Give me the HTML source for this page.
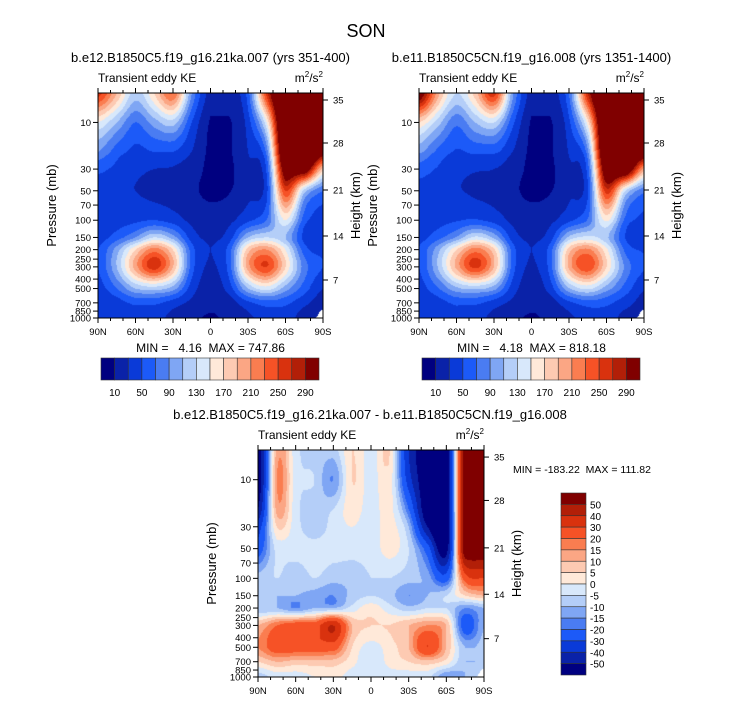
<!DOCTYPE html>
<html><head><meta charset="utf-8">
<style>
html,body{margin:0;padding:0;background:#fff;}
#root{position:relative;width:733px;height:701px;overflow:hidden;font-family:"Liberation Sans",Arial,sans-serif;}
canvas{position:absolute;}
svg{position:absolute;left:0;top:0;}
text{white-space:pre;}
</style></head>
<body>
<div id="root">
<canvas id="c1"></canvas>
<canvas id="c2"></canvas>
<canvas id="c3"></canvas>
<svg id="ov" width="733" height="701"></svg>
</div>
<script>
// ---- data ----
const lats = [90,75,60,45,30,15,0,-15,-30,-45,-60,-75,-90];
const levels = [5,10,20,30,50,100,150,200,300,500,700,1000];
const keLevels = [10,30,50,70,90,110,130,150,170,190,210,230,250,270,290];
const diffLevels = [-50,-40,-30,-20,-15,-10,-5,0,5,10,15,20,30,40,50];
const keTickLabels = ["10","50","90","130","170","210","250","290"];
const diffTickLabels = ["50","40","30","20","15","10","5","0","-5","-10","-15","-20","-30","-40","-50"];
const presLabels = [10,30,50,70,100,150,200,250,300,400,500,700,850,1000];
const latLabels = ["90N","60N","30N","0","30S","60S","90S"];
const latTicks = [90,60,30,0,-30,-60,-90];
const heightLabels = ["35","28","21","14","7"];
const panel1 = [
 [260,190,120,170,230,90,20,20,60,260,400,400,400],
 [150,110,70,100,120,50,8,8,40,150,400,400,400],
 [90,60,45,50,50,30,6,8,30,80,380,400,320],
 [55,45,35,30,28,20,5,7,25,55,330,330,180],
 [40,35,30,25,22,14,5,9,25,45,250,120,70],
 [35,40,45,50,40,25,20,25,45,70,150,60,40],
 [40,60,90,130,100,40,28,40,110,130,110,45,35],
 [50,100,170,220,170,60,30,60,180,210,150,60,45],
 [50,110,200,260,190,60,28,60,200,250,170,80,50],
 [40,70,110,120,100,40,20,40,110,140,100,60,30],
 [30,40,55,55,40,25,15,20,45,60,55,35,20],
 [30,35,40,35,25,15,8,15,25,40,40,20,null]];
const panel2 = [
 [320,200,130,180,260,95,20,20,70,270,400,400,400],
 [170,120,75,110,130,55,8,8,45,160,400,400,400],
 [95,65,48,55,55,30,6,8,32,85,390,400,340],
 [60,48,37,32,30,20,5,7,26,60,340,350,200],
 [42,37,32,27,24,14,5,9,26,48,260,130,75],
 [38,42,48,52,42,25,20,25,45,72,155,65,45],
 [42,62,92,135,105,40,28,40,115,135,115,50,38],
 [52,102,170,220,175,60,30,60,180,215,155,65,48],
 [50,110,195,255,190,60,28,60,195,245,170,85,52],
 [40,68,105,115,98,40,20,40,108,135,100,62,32],
 [30,40,55,55,40,25,15,20,45,60,55,38,22],
 [30,35,40,35,25,15,8,15,25,40,42,22,null]];
const diffData = [
 [-60,12,-3,-8,-8,5,-3,5,-40,-60,-60,60,60],
 [-60,15,-3,-5,-15,5,-3,3,-35,-60,-60,60,60],
 [-50,12,-3,-8,-5,3,-3,2,-20,-60,-60,60,60],
 [-35,5,-3,-8,-3,0,-3,2,-10,-50,-60,60,60],
 [-25,-3,-3,-3,-3,-3,-3,2,-5,-25,-55,60,60],
 [-8,-5,-8,-5,-8,-8,-5,-5,-8,-12,-25,25,30],
 [-10,-10,-10,-12,-15,-8,-5,-8,-15,-10,-5,5,10],
 [-10,-10,-15,-10,-10,-3,3,-3,-8,-5,-5,-15,-10],
 [10,20,25,25,40,10,5,5,10,15,10,-25,-10],
 [15,25,25,25,25,5,-2,3,10,30,10,-10,-8],
 [5,10,8,8,8,2,-5,2,5,8,3,-10,-10],
 [-8,-3,-3,0,2,-3,-5,-3,-3,-3,-15,-10,null]];
const colors = ["#000080","#0a22a8","#0a3ad8","#1c5af8","#4a7cf2","#7fa6f4","#b4cef8","#d8e8fb","#ffe9d9","#fdcab2","#fba684","#fa7d50","#f65226","#d9320e","#b21f08","#800000"];

// ---- layout ----
const P = [
 {L:98,T:93,W:225,H:225,data:panel1,lv:keLevels,cv:"c1"},
 {L:419,T:93,W:225,H:225,data:panel2,lv:keLevels,cv:"c2"},
 {L:258,T:450,W:226,H:227,data:diffData,lv:diffLevels,cv:"c3"}];
const pTop=5, pBot=1000;
function yOf(p,pn){return pn.T+pn.H*(Math.log(p)-Math.log(pTop))/(Math.log(pBot)-Math.log(pTop));}
function xOf(lat,pn){return pn.L+pn.W*(90-lat)/180;}
function colorFor(v,lv){let i=0;while(i<lv.length&&v>=lv[i])i++;return colors[i];}
function getv(data,j,i){
  j=Math.max(0,Math.min(levels.length-1,j));i=Math.max(0,Math.min(lats.length-1,i));
  let v=data[j][i];
  if(v===null){v=data[j][i-1]!==undefined&&data[j][i-1]!==null?data[j][i-1]:data[j-1][i];}
  return v;
}
function cr(p0,p1,p2,p3,t){
  const v=0.5*((2*p1)+(-p0+p2)*t+(2*p0-5*p1+4*p2-p3)*t*t+(-p0+3*p1-3*p2+p3)*t*t*t);
  const lo=Math.min(p1,p2),hi=Math.max(p1,p2);
  return Math.max(lo-(hi-lo)*0.15,Math.min(hi+(hi-lo)*0.15,v));
}
function sample(data,fx,fy){
  const i=Math.min(Math.floor(fx),lats.length-2), j=Math.min(Math.floor(fy),levels.length-2);
  const a=fx-i,b=fy-j;
  if(data[levels.length-1][lats.length-1]===null && fx>11.55 && fy>10.45 && (fx-11.55)*2+(fy-10.45)>0.7) return null;
  const rows=[];
  for(let jj=j-1;jj<=j+2;jj++){
    rows.push(cr(getv(data,jj,i-1),getv(data,jj,i),getv(data,jj,i+1),getv(data,jj,i+2),a));
  }
  return cr(rows[0],rows[1],rows[2],rows[3],b);
}
const logLv=levels.map(p=>Math.log(p));
function levIndex(p){const lp=Math.log(p);for(let j=0;j<levels.length-1;j++){if(lp<=logLv[j+1]){return j+(lp-logLv[j])/(logLv[j+1]-logLv[j]);}}return levels.length-1;}
P.forEach(pn=>{
  const c=document.getElementById(pn.cv);
  c.width=pn.W;c.height=pn.H;c.style.left=pn.L+"px";c.style.top=pn.T+"px";
  const ctx=c.getContext("2d");
  for(let y=0;y<pn.H;y++){
    const p=Math.exp(Math.log(pTop)+(y+0.5)/pn.H*(Math.log(pBot)-Math.log(pTop)));
    const fy=Math.max(0,levIndex(p));
    for(let x=0;x<pn.W;x++){
      const lat=90-(x+0.5)/pn.W*180;
      const fx=(90-lat)/15;
      const v=sample(pn.data,fx,fy);
      ctx.fillStyle=v===null?"#ffffff":colorFor(v,pn.lv);
      ctx.fillRect(x,y,1,1);
    }
  }
});

// ---- svg overlay ----
const NS="http://www.w3.org/2000/svg";
const svg=document.getElementById("ov");
function el(tag,attrs,parent){const e=document.createElementNS(NS,tag);for(const k in attrs)e.setAttribute(k,attrs[k]);(parent||svg).appendChild(e);return e;}
function txt(s,x,y,size,anchor,name,extra){const t=el("text",Object.assign({x:x,y:y,"font-size":size,"text-anchor":anchor||"start",fill:"#000"},extra||{}));t.textContent=s;


return t;}

txt("SON",366,37,18,"middle","figure-title");
const subs=["b.e12.B1850C5.f19_g16.21ka.007 (yrs 351-400)","b.e11.B1850C5CN.f19_g16.008 (yrs 1351-1400)","b.e12.B1850C5.f19_g16.21ka.007 - b.e11.B1850C5CN.f19_g16.008"];
const minmax=["MIN =   4.16  MAX = 747.86","MIN =   4.18  MAX = 818.18"];
const hOff=[7,50,97,143,187];
P.forEach((pn,k)=>{
  const g=el("g",{});
  
  
  const R=pn.L+pn.W,B=pn.T+pn.H,cx=pn.L+pn.W/2;
  txt(subs[k],k==2?370:cx,pn.T-31,13,"middle","panel-title");
  txt("Transient eddy KE",pn.L,pn.T-11,12,"start","variable-label");
  const u=txt("m",R,pn.T-11,12,"end","units-label");
  u.innerHTML='m<tspan dy="-5" font-size="8">2</tspan><tspan dy="5">/s</tspan><tspan dy="-5" font-size="8">2</tspan>';
  el("rect",{x:pn.L,y:pn.T,width:pn.W,height:pn.H,fill:"none",stroke:"#000","stroke-width":1},g);
  for(let lat=90;lat>=-90;lat-=10){
    const x=xOf(lat,pn),len=(lat%30===0)?5:3;
    el("line",{x1:x,x2:x,y1:B,y2:B+len,stroke:"#000"},g);
    el("line",{x1:x,x2:x,y1:pn.T,y2:pn.T-len,stroke:"#000"},g);
  }
  latTicks.forEach((lat,i)=>txt(latLabels[i],xOf(lat,pn),B+17,9.5,"middle","x-tick-label"));
  presLabels.forEach(p=>{const y=yOf(p,pn);
    el("line",{x1:pn.L-5,x2:pn.L,y1:y,y2:y,stroke:"#000"},g);
    txt(String(p),pn.L-7,y+3.5,9.5,"end","y-tick-label");});
  hOff.forEach((o,i)=>{const y=pn.T+o*pn.H/225;
    el("line",{x1:R,x2:R+5,y1:y,y2:y,stroke:"#000"},g);
    txt(heightLabels[i],R+10,y+3.5,9.5,"start","height-tick-label");});
  const my=pn.T+pn.H/2;
  txt("Pressure (mb)",pn.L-42,my,13,"middle","y-axis-title",{transform:`rotate(-90 ${pn.L-42} ${my})`});
  txt("Height (km)",R+37,my,13,"middle","right-axis-title",{transform:`rotate(-90 ${R+37} ${my})`});
  if(k<2){
    txt(minmax[k],cx,352,12,"middle","min-max-label");
    const cbL=pn.L+3,cbW=218,cbT=358,cbH=22,bw=cbW/16;
    colors.forEach((c,i)=>{const r=el("rect",{x:cbL+i*bw,y:cbT,width:bw,height:cbH,fill:c,stroke:"#333","stroke-width":0.6});
      
      });
    keTickLabels.forEach((s,i)=>txt(s,cbL+(1+2*i)*bw,396,10,"middle","colorbar-label"));
  } else {
    txt("MIN = -183.22  MAX = 111.82",513,473,10.5,"start","min-max-label");
    const cbL=561,cbW=25,cbT=493,cbH=182,bh=cbH/16;
    colors.slice().reverse().forEach((c,i)=>{const r=el("rect",{x:cbL,y:cbT+i*bh,width:bw=cbW,height:bh,fill:c,stroke:"#333","stroke-width":0.6});
      
      });
    diffTickLabels.forEach((s,i)=>txt(s,590,cbT+(i+1)*bh+4,10,"start","colorbar-label"));
  }
});
var bw;
</script>
</body></html>
